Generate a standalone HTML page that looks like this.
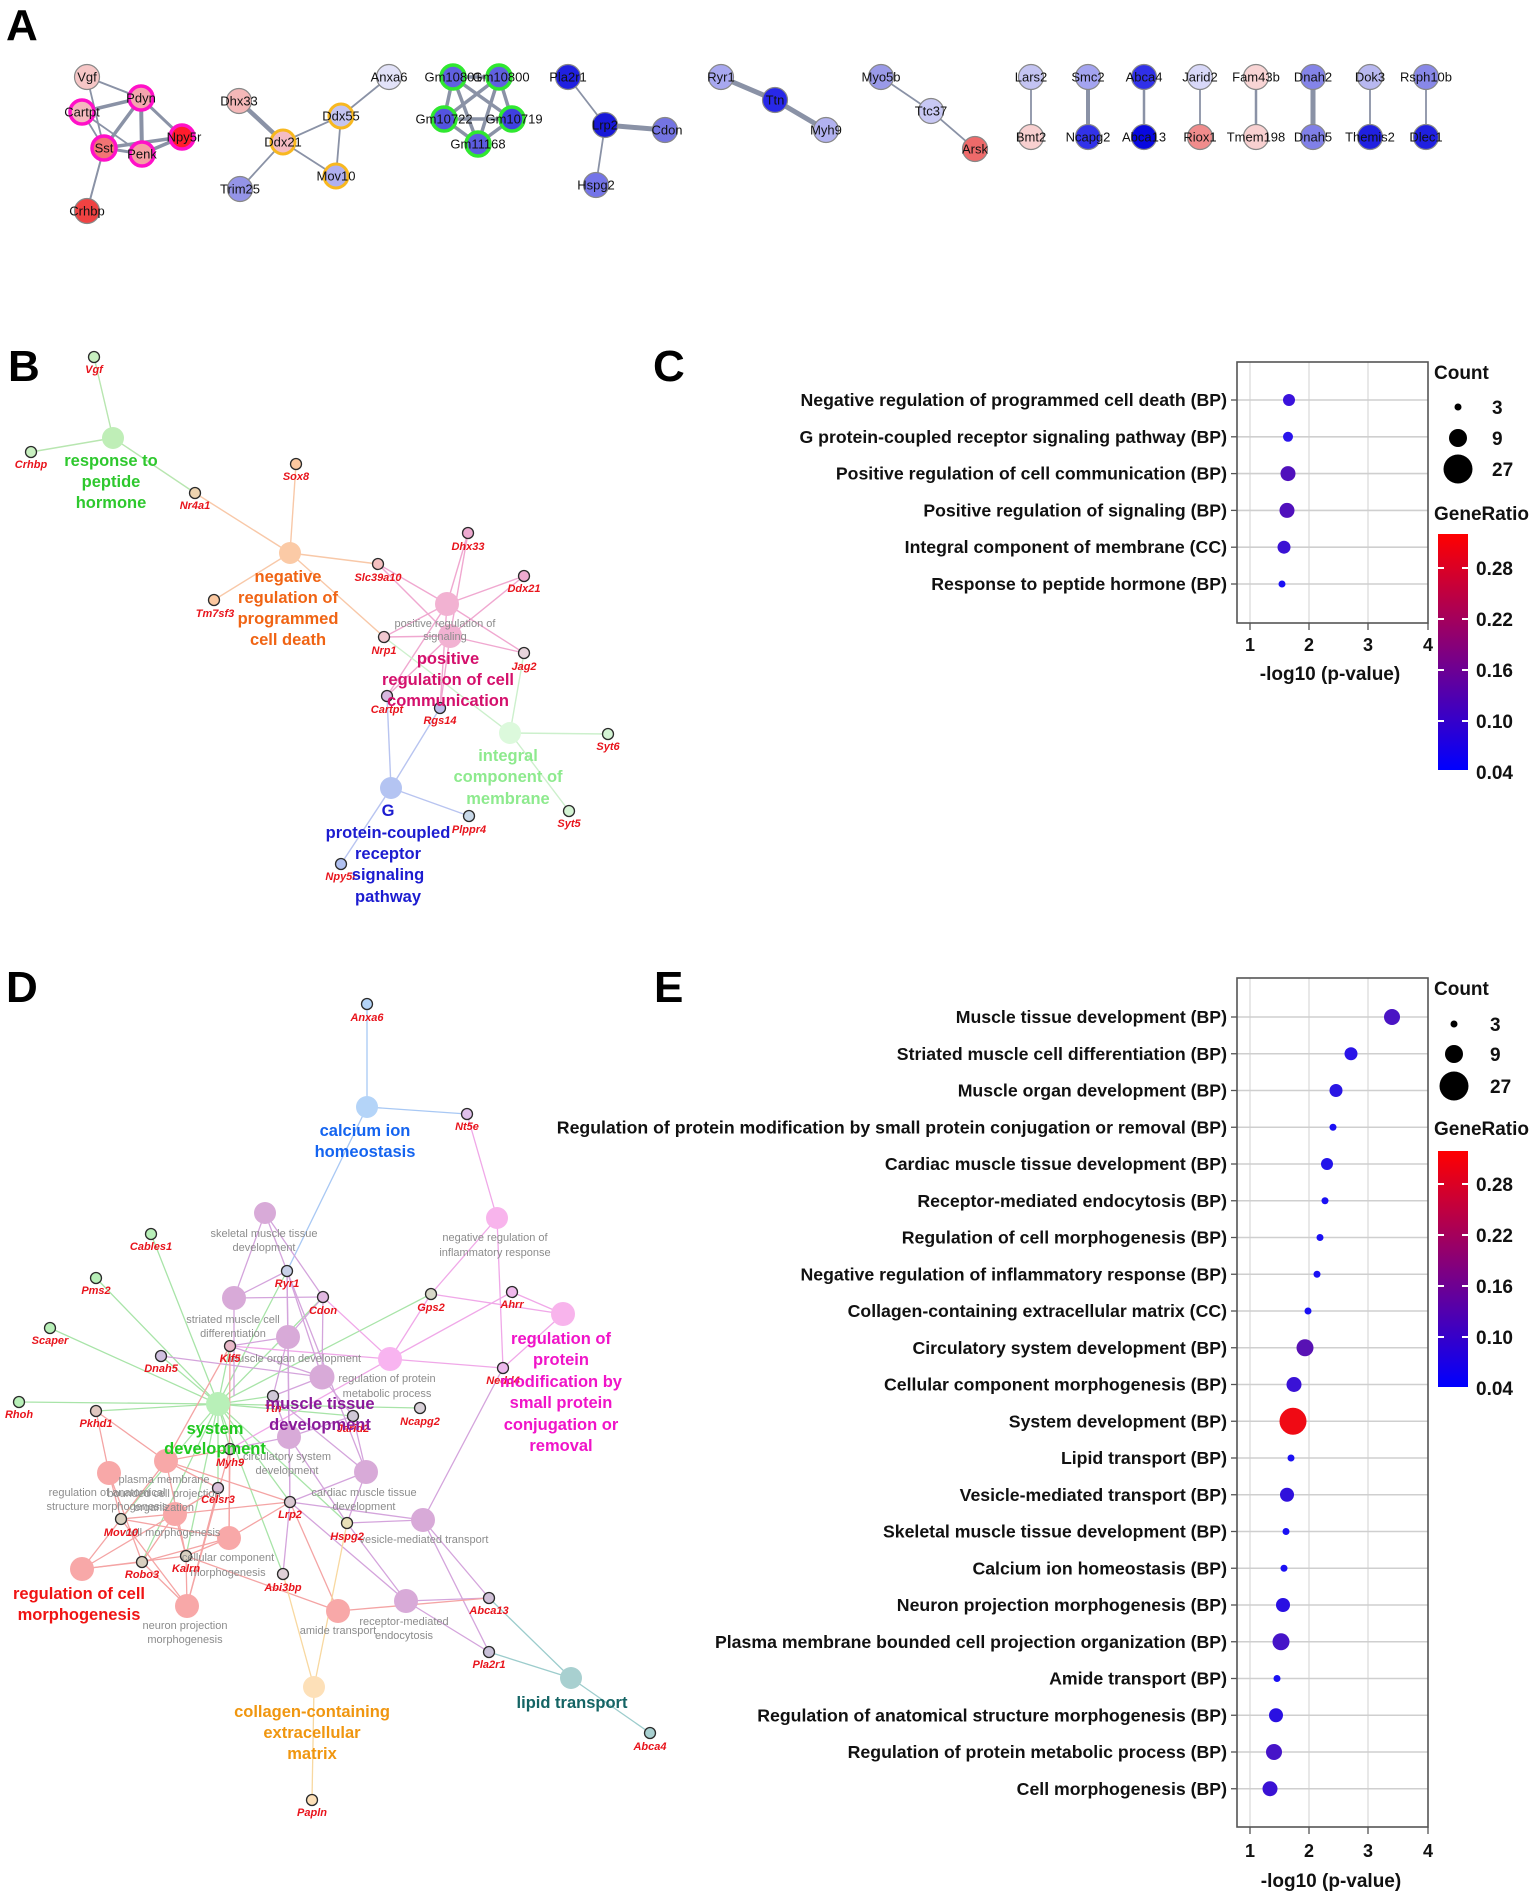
<!DOCTYPE html>
<html><head><meta charset="utf-8"><style>
html,body{margin:0;padding:0;background:#fff}
svg{display:block}
text{font-family:"Liberation Sans",Arial,sans-serif}
.L{font-size:44px;font-weight:bold;fill:#000}
.an{font-size:13px;fill:#111;text-anchor:middle}
.gl{font-size:11px;font-weight:bold;font-style:italic;fill:#e8141c;text-anchor:middle}
.hl{font-size:16.5px;font-weight:bold;text-anchor:middle}
.gr{font-size:11px;fill:#8c8c8c;text-anchor:middle}
.cat{font-size:17.7px;font-weight:bold;fill:#111;text-anchor:end}
.tk{font-size:18px;font-weight:bold;fill:#111;text-anchor:middle}
.lg{font-size:19px;font-weight:bold;fill:#111}
</style></head><body>
<svg width="1535" height="1896" viewBox="0 0 1535 1896" xmlns="http://www.w3.org/2000/svg">
<rect width="1535" height="1896" fill="#fff"/>

<!-- Panel letters -->
<text class="L" x="6" y="40">A</text>
<text class="L" x="8" y="381">B</text>
<text class="L" x="653" y="381">C</text>
<text class="L" x="6" y="1002">D</text>
<text class="L" x="654" y="1002">E</text>

<!-- ================= PANEL A ================= -->
<g stroke="#8a92a6" stroke-linecap="round">
 <line x1="87" y1="77" x2="141" y2="98" stroke-width="2"/>
 <line x1="87" y1="77" x2="104" y2="148" stroke-width="1.8"/>
 <line x1="82" y1="112" x2="141" y2="98" stroke-width="3.5"/>
 <line x1="82" y1="112" x2="104" y2="148" stroke-width="1.8"/>
 <line x1="82" y1="112" x2="142" y2="154" stroke-width="1.8"/>
 <line x1="141" y1="98" x2="104" y2="148" stroke-width="3.5"/>
 <line x1="141" y1="98" x2="142" y2="154" stroke-width="4"/>
 <line x1="141" y1="98" x2="182" y2="137" stroke-width="3"/>
 <line x1="104" y1="148" x2="142" y2="154" stroke-width="3"/>
 <line x1="104" y1="148" x2="182" y2="137" stroke-width="3.5"/>
 <line x1="142" y1="154" x2="182" y2="137" stroke-width="3.5"/>
 <line x1="104" y1="148" x2="87" y2="211" stroke-width="2"/>
 <line x1="239" y1="101" x2="283" y2="142" stroke-width="4.5"/>
 <line x1="283" y1="142" x2="341" y2="116" stroke-width="1.8"/>
 <line x1="283" y1="142" x2="240" y2="189" stroke-width="1.8"/>
 <line x1="283" y1="142" x2="336" y2="176" stroke-width="1.8"/>
 <line x1="341" y1="116" x2="336" y2="176" stroke-width="1.8"/>
 <line x1="341" y1="116" x2="389" y2="77" stroke-width="1.8"/>
 <line x1="453" y1="77" x2="499" y2="77" stroke-width="3.5"/>
 <line x1="453" y1="77" x2="444" y2="119" stroke-width="3.5"/>
 <line x1="453" y1="77" x2="512" y2="119" stroke-width="3.5"/>
 <line x1="453" y1="77" x2="478" y2="144" stroke-width="3.5"/>
 <line x1="499" y1="77" x2="444" y2="119" stroke-width="3.5"/>
 <line x1="499" y1="77" x2="512" y2="119" stroke-width="3.5"/>
 <line x1="499" y1="77" x2="478" y2="144" stroke-width="3.5"/>
 <line x1="444" y1="119" x2="512" y2="119" stroke-width="3.5"/>
 <line x1="444" y1="119" x2="478" y2="144" stroke-width="3.5"/>
 <line x1="512" y1="119" x2="478" y2="144" stroke-width="3.5"/>
 <line x1="568" y1="77" x2="605" y2="125" stroke-width="1.8"/>
 <line x1="605" y1="125" x2="665" y2="130" stroke-width="5"/>
 <line x1="605" y1="125" x2="596" y2="185" stroke-width="1.8"/>
 <line x1="721" y1="77" x2="775" y2="100" stroke-width="5"/>
 <line x1="775" y1="100" x2="826" y2="130" stroke-width="5"/>
 <line x1="881" y1="77" x2="931" y2="111" stroke-width="1.8"/>
 <line x1="931" y1="111" x2="975" y2="149" stroke-width="1.8"/>
 <line x1="1031" y1="77" x2="1031" y2="137" stroke-width="1.8"/>
 <line x1="1088" y1="77" x2="1088" y2="137" stroke-width="4"/>
 <line x1="1144" y1="77" x2="1144" y2="137" stroke-width="2.5"/>
 <line x1="1200" y1="77" x2="1200" y2="137" stroke-width="1.8"/>
 <line x1="1256" y1="77" x2="1256" y2="137" stroke-width="2.5"/>
 <line x1="1313" y1="77" x2="1313" y2="137" stroke-width="5"/>
 <line x1="1370" y1="77" x2="1370" y2="137" stroke-width="1.8"/>
 <line x1="1426" y1="77" x2="1426" y2="137" stroke-width="1.8"/>
</g>
<g stroke="#888" stroke-width="1.2">
 <circle cx="87" cy="77" r="12.5" fill="#f6c6c6"/>
 <circle cx="87" cy="211" r="12.5" fill="#f04242"/>
 <circle cx="239" cy="101" r="12.5" fill="#f4b8b8"/>
 <circle cx="389" cy="77" r="12.5" fill="#e2e2f8"/>
 <circle cx="240" cy="189" r="12.5" fill="#9494e8"/>
 <circle cx="568" cy="77" r="12.5" fill="#2020e0"/>
 <circle cx="605" cy="125" r="12.5" fill="#1818d8"/>
 <circle cx="665" cy="130" r="12.5" fill="#7474e2"/>
 <circle cx="596" cy="185" r="12.5" fill="#7474e8"/>
 <circle cx="721" cy="77" r="12.5" fill="#a8a8f0"/>
 <circle cx="775" cy="100" r="12.5" fill="#2828e8"/>
 <circle cx="826" cy="130" r="12.5" fill="#b2b2f0"/>
 <circle cx="881" cy="77" r="12.5" fill="#9a9ae8"/>
 <circle cx="931" cy="111" r="12.5" fill="#c8c8f4"/>
 <circle cx="975" cy="149" r="12.5" fill="#ee6a6a"/>
 <circle cx="1031" cy="77" r="12.5" fill="#c4c4f2"/>
 <circle cx="1088" cy="77" r="12.5" fill="#a4a4f0"/>
 <circle cx="1144" cy="77" r="12.5" fill="#3030e8"/>
 <circle cx="1200" cy="77" r="12.5" fill="#d8d8f8"/>
 <circle cx="1256" cy="77" r="12.5" fill="#f8d4d4"/>
 <circle cx="1313" cy="77" r="12.5" fill="#8484e8"/>
 <circle cx="1370" cy="77" r="12.5" fill="#b8b8f0"/>
 <circle cx="1426" cy="77" r="12.5" fill="#8888e8"/>
 <circle cx="1031" cy="137" r="12.5" fill="#f8d0d0"/>
 <circle cx="1088" cy="137" r="12.5" fill="#3232e8"/>
 <circle cx="1144" cy="137" r="12.5" fill="#0808e0"/>
 <circle cx="1200" cy="137" r="12.5" fill="#f08c8c"/>
 <circle cx="1256" cy="137" r="12.5" fill="#f8d0d0"/>
 <circle cx="1313" cy="137" r="12.5" fill="#8080e8"/>
 <circle cx="1370" cy="137" r="12.5" fill="#2020e0"/>
 <circle cx="1426" cy="137" r="12.5" fill="#2020e0"/>
</g>
<g stroke="#ff10c8" stroke-width="3.5">
 <circle cx="141" cy="98" r="12" fill="#f4a6ae"/>
 <circle cx="82" cy="112" r="12" fill="#f4b8be"/>
 <circle cx="182" cy="137" r="12" fill="#ff1c2c"/>
 <circle cx="104" cy="148" r="12" fill="#f27474"/>
 <circle cx="142" cy="154" r="12" fill="#f5a0a4"/>
</g>
<g stroke="#f8b820" stroke-width="3">
 <circle cx="341" cy="116" r="12" fill="#c4c4f0"/>
 <circle cx="283" cy="142" r="12" fill="#f4bcc4"/>
 <circle cx="336" cy="176" r="12" fill="#b0b0f0"/>
</g>
<g stroke="#30e830" stroke-width="3.5">
 <circle cx="453" cy="77" r="12" fill="#6060e0"/>
 <circle cx="499" cy="77" r="12" fill="#6060e0"/>
 <circle cx="444" cy="119" r="12" fill="#5454e0"/>
 <circle cx="512" cy="119" r="12" fill="#4040e0"/>
 <circle cx="478" cy="144" r="12" fill="#5c5ce0"/>
</g>
<g class="an">
 <text class="an" x="87" y="81.5">Vgf</text>
 <text class="an" x="141" y="102.5">Pdyn</text>
 <text class="an" x="82" y="116.5">Cartpt</text>
 <text class="an" x="184" y="141.5">Npy5r</text>
 <text class="an" x="104" y="152.5">Sst</text>
 <text class="an" x="142" y="158.5">Penk</text>
 <text class="an" x="87" y="215.5">Crhbp</text>
 <text class="an" x="239" y="105.5">Dhx33</text>
 <text class="an" x="389" y="81.5">Anxa6</text>
 <text class="an" x="341" y="120.5">Ddx55</text>
 <text class="an" x="283" y="146.5">Ddx21</text>
 <text class="an" x="240" y="193.5">Trim25</text>
 <text class="an" x="336" y="180.5">Mov10</text>
 <text class="an" x="453" y="81.5">Gm10801</text>
 <text class="an" x="501" y="81.5">Gm10800</text>
 <text class="an" x="444" y="123.5">Gm10722</text>
 <text class="an" x="514" y="123.5">Gm10719</text>
 <text class="an" x="478" y="148.5">Gm11168</text>
 <text class="an" x="568" y="81.5">Pla2r1</text>
 <text class="an" x="605" y="129.5">Lrp2</text>
 <text class="an" x="667" y="134.5">Cdon</text>
 <text class="an" x="596" y="189.5">Hspg2</text>
 <text class="an" x="721" y="81.5">Ryr1</text>
 <text class="an" x="775" y="104.5">Ttn</text>
 <text class="an" x="826" y="134.5">Myh9</text>
 <text class="an" x="881" y="81.5">Myo5b</text>
 <text class="an" x="931" y="115.5">Ttc37</text>
 <text class="an" x="975" y="153.5">Arsk</text>
 <text class="an" x="1031" y="81.5">Lars2</text>
 <text class="an" x="1088" y="81.5">Smc2</text>
 <text class="an" x="1144" y="81.5">Abca4</text>
 <text class="an" x="1200" y="81.5">Jarid2</text>
 <text class="an" x="1256" y="81.5">Fam43b</text>
 <text class="an" x="1313" y="81.5">Dnah2</text>
 <text class="an" x="1370" y="81.5">Dok3</text>
 <text class="an" x="1426" y="81.5">Rsph10b</text>
 <text class="an" x="1031" y="141.5">Bmt2</text>
 <text class="an" x="1088" y="141.5">Ncapg2</text>
 <text class="an" x="1144" y="141.5">Abca13</text>
 <text class="an" x="1200" y="141.5">Riox1</text>
 <text class="an" x="1256" y="141.5">Tmem198</text>
 <text class="an" x="1313" y="141.5">Dnah5</text>
 <text class="an" x="1370" y="141.5">Themis2</text>
 <text class="an" x="1426" y="141.5">Dlec1</text>
</g>

<!-- ================= PANEL B ================= -->
<g stroke-width="1.4" fill="none">
 <g stroke="#b8e6b0">
  <line x1="94" y1="357" x2="113" y2="438"/>
  <line x1="31" y1="452" x2="113" y2="438"/>
  <line x1="113" y1="438" x2="195" y2="493"/>
 </g>
 <g stroke="#f8c8a8">
  <line x1="195" y1="493" x2="290" y2="553"/>
  <line x1="296" y1="464" x2="290" y2="553"/>
  <line x1="214" y1="600" x2="290" y2="553"/>
  <line x1="378" y1="564" x2="290" y2="553"/>
  <line x1="384" y1="637" x2="290" y2="553"/>
 </g>
 <g stroke="#f0a8d0">
  <line x1="378" y1="564" x2="447" y2="604"/><line x1="378" y1="564" x2="450" y2="636"/>
  <line x1="468" y1="533" x2="447" y2="604"/><line x1="468" y1="533" x2="450" y2="636"/>
  <line x1="524" y1="576" x2="447" y2="604"/><line x1="524" y1="576" x2="450" y2="636"/>
  <line x1="524" y1="653" x2="447" y2="604"/><line x1="524" y1="653" x2="450" y2="636"/>
  <line x1="384" y1="637" x2="447" y2="604"/><line x1="384" y1="637" x2="450" y2="636"/>
  <line x1="387" y1="696" x2="447" y2="604"/><line x1="387" y1="696" x2="450" y2="636"/>
  <line x1="440" y1="708" x2="447" y2="604"/><line x1="440" y1="708" x2="450" y2="636"/>
 </g>
 <g stroke="#ccf0cc">
  <line x1="524" y1="653" x2="510" y2="733"/>
  <line x1="384" y1="637" x2="510" y2="733"/>
  <line x1="608" y1="734" x2="510" y2="733"/>
  <line x1="569" y1="811" x2="510" y2="733"/>
 </g>
 <g stroke="#b8c4f0">
  <line x1="387" y1="696" x2="391" y2="788"/>
  <line x1="440" y1="708" x2="391" y2="788"/>
  <line x1="469" y1="816" x2="391" y2="788"/>
  <line x1="341" y1="864" x2="391" y2="788"/>
 </g>
</g>
<g>
 <circle cx="113" cy="438" r="11" fill="#bfeeb7"/>
 <circle cx="290" cy="553" r="11" fill="#fbcaa6"/>
 <circle cx="447" cy="604" r="12" fill="#f2b2d2"/>
 <circle cx="450" cy="636" r="12" fill="#f2b2d2"/>
 <circle cx="510" cy="733" r="11" fill="#dcf9dc"/>
 <circle cx="391" cy="788" r="11" fill="#b4c4f2"/>
</g>
<g stroke="#2a2a2a" stroke-width="1.3">
 <circle cx="94" cy="357" r="5.5" fill="#c8f0c0"/>
 <circle cx="31" cy="452" r="5.5" fill="#c8f0c0"/>
 <circle cx="195" cy="493" r="5.5" fill="#eed4b0"/>
 <circle cx="296" cy="464" r="5.5" fill="#fbc8a0"/>
 <circle cx="214" cy="600" r="5.5" fill="#fbc8a0"/>
 <circle cx="378" cy="564" r="5.5" fill="#f5c0c0"/>
 <circle cx="468" cy="533" r="5.5" fill="#eeaad0"/>
 <circle cx="524" cy="576" r="5.5" fill="#eeaad0"/>
 <circle cx="384" cy="637" r="5.5" fill="#f0c8d0"/>
 <circle cx="524" cy="653" r="5.5" fill="#e8d4dc"/>
 <circle cx="387" cy="696" r="5.5" fill="#d8b8e0"/>
 <circle cx="440" cy="708" r="5.5" fill="#bcbce8"/>
 <circle cx="608" cy="734" r="5.5" fill="#d4f4d4"/>
 <circle cx="569" cy="811" r="5.5" fill="#d4f4d4"/>
 <circle cx="469" cy="816" r="5.5" fill="#c8d8e8"/>
 <circle cx="341" cy="864" r="5.5" fill="#b0c0f0"/>
</g>
<text class="gr" x="445" y="627">positive regulation of</text>
<text class="gr" x="445" y="640">signaling</text>
<g>
 <text class="gl" x="94" y="373">Vgf</text>
 <text class="gl" x="31" y="468">Crhbp</text>
 <text class="gl" x="195" y="509">Nr4a1</text>
 <text class="gl" x="296" y="480">Sox8</text>
 <text class="gl" x="215" y="617">Tm7sf3</text>
 <text class="gl" x="378" y="581">Slc39a10</text>
 <text class="gl" x="468" y="550">Dhx33</text>
 <text class="gl" x="524" y="592">Ddx21</text>
 <text class="gl" x="384" y="654">Nrp1</text>
 <text class="gl" x="524" y="670">Jag2</text>
 <text class="gl" x="387" y="713">Cartpt</text>
 <text class="gl" x="440" y="724">Rgs14</text>
 <text class="gl" x="608" y="750">Syt6</text>
 <text class="gl" x="569" y="827">Syt5</text>
 <text class="gl" x="469" y="833">Plppr4</text>
 <text class="gl" x="341" y="880">Npy5r</text>
</g>
<g class="hl">
 <text class="hl" fill="#2ec82e" x="111" y="466">response to</text>
 <text class="hl" fill="#2ec82e" x="111" y="487">peptide</text>
 <text class="hl" fill="#2ec82e" x="111" y="508">hormone</text>
 <text class="hl" fill="#f06414" x="288" y="582">negative</text>
 <text class="hl" fill="#f06414" x="288" y="603">regulation of</text>
 <text class="hl" fill="#f06414" x="288" y="624">programmed</text>
 <text class="hl" fill="#f06414" x="288" y="645">cell death</text>
 <text class="hl" fill="#d4106c" x="448" y="664">positive</text>
 <text class="hl" fill="#d4106c" x="448" y="685">regulation of cell</text>
 <text class="hl" fill="#d4106c" x="448" y="706">communication</text>
 <text class="hl" fill="#8eea8e" x="508" y="761">integral</text>
 <text class="hl" fill="#8eea8e" x="508" y="782">component of</text>
 <text class="hl" fill="#8eea8e" x="508" y="804">membrane</text>
 <text class="hl" fill="#1c1cd0" x="388" y="816">G</text>
 <text class="hl" fill="#1c1cd0" x="388" y="838">protein-coupled</text>
 <text class="hl" fill="#1c1cd0" x="388" y="859">receptor</text>
 <text class="hl" fill="#1c1cd0" x="388" y="880">signaling</text>
 <text class="hl" fill="#1c1cd0" x="388" y="902">pathway</text>
</g>

<!-- ================= PANEL C ================= -->
<g stroke="#d8d8d8" stroke-width="1.2">
 <line x1="1250" y1="362" x2="1250" y2="623"/>
 <line x1="1309" y1="362" x2="1309" y2="623"/>
 <line x1="1368" y1="362" x2="1368" y2="623"/>
</g>
<g stroke="#cfcfcf" stroke-width="1.6">
 <line x1="1237" y1="400" x2="1428" y2="400"/>
 <line x1="1237" y1="436.8" x2="1428" y2="436.8"/>
 <line x1="1237" y1="473.6" x2="1428" y2="473.6"/>
 <line x1="1237" y1="510.4" x2="1428" y2="510.4"/>
 <line x1="1237" y1="547.2" x2="1428" y2="547.2"/>
 <line x1="1237" y1="584" x2="1428" y2="584"/>
</g>
<rect x="1237" y="362" width="191" height="261" fill="none" stroke="#555" stroke-width="1.6"/>
<g stroke="#555" stroke-width="1.3">
 <line x1="1250" y1="623" x2="1250" y2="630"/><line x1="1309" y1="623" x2="1309" y2="630"/>
 <line x1="1368" y1="623" x2="1368" y2="630"/><line x1="1428" y1="623" x2="1428" y2="630"/>
 <line x1="1231" y1="400" x2="1237" y2="400"/><line x1="1231" y1="436.8" x2="1237" y2="436.8"/>
 <line x1="1231" y1="473.6" x2="1237" y2="473.6"/><line x1="1231" y1="510.4" x2="1237" y2="510.4"/>
 <line x1="1231" y1="547.2" x2="1237" y2="547.2"/><line x1="1231" y1="584" x2="1237" y2="584"/>
</g>
<circle cx="1289" cy="400" r="6" fill="#3a12dc"/>
<circle cx="1288" cy="436.8" r="5" fill="#2a14ec"/>
<circle cx="1288" cy="473.6" r="7.5" fill="#5010bc"/>
<circle cx="1287" cy="510.4" r="7.5" fill="#5010bc"/>
<circle cx="1284" cy="547.2" r="6.5" fill="#3a12d4"/>
<circle cx="1282" cy="584" r="3.5" fill="#1a10f4"/>
<text class="cat" x="1227" y="406">Negative regulation of programmed cell death (BP)</text>
<text class="cat" x="1227" y="442.8">G protein-coupled receptor signaling pathway (BP)</text>
<text class="cat" x="1227" y="479.6">Positive regulation of cell communication (BP)</text>
<text class="cat" x="1227" y="516.4">Positive regulation of signaling (BP)</text>
<text class="cat" x="1227" y="553.2">Integral component of membrane (CC)</text>
<text class="cat" x="1227" y="590">Response to peptide hormone (BP)</text>
<text class="tk" x="1250" y="651">1</text><text class="tk" x="1309" y="651">2</text>
<text class="tk" x="1368" y="651">3</text><text class="tk" x="1428" y="651">4</text>
<text class="lg" x="1330" y="680" text-anchor="middle">-log10 (p-value)</text>
<text class="lg" x="1434" y="379">Count</text>
<circle cx="1458" cy="407" r="3.5" fill="#000"/>
<circle cx="1458" cy="438" r="9" fill="#000"/>
<circle cx="1458" cy="469" r="14.5" fill="#000"/>
<text class="lg" x="1492" y="414">3</text>
<text class="lg" x="1492" y="445">9</text>
<text class="lg" x="1492" y="476">27</text>
<text class="lg" x="1434" y="520">GeneRatio</text>
<defs>
 <linearGradient id="cb" x1="0" y1="1" x2="0" y2="0">
  <stop offset="0" stop-color="#0000ff"/>
  <stop offset="0.5" stop-color="#800080"/>
  <stop offset="1" stop-color="#ff0000"/>
 </linearGradient>
</defs>
<rect x="1438" y="534" width="30" height="236" fill="url(#cb)"/>
<g stroke="#fff" stroke-width="2">
 <line x1="1438" y1="568" x2="1444" y2="568"/><line x1="1462" y1="568" x2="1468" y2="568"/>
 <line x1="1438" y1="619" x2="1444" y2="619"/><line x1="1462" y1="619" x2="1468" y2="619"/>
 <line x1="1438" y1="670" x2="1444" y2="670"/><line x1="1462" y1="670" x2="1468" y2="670"/>
 <line x1="1438" y1="721" x2="1444" y2="721"/><line x1="1462" y1="721" x2="1468" y2="721"/>
</g>
<text class="lg" x="1476" y="575">0.28</text>
<text class="lg" x="1476" y="626">0.22</text>
<text class="lg" x="1476" y="677">0.16</text>
<text class="lg" x="1476" y="728">0.10</text>
<text class="lg" x="1476" y="779">0.04</text>

<!-- ================= PANEL D ================= -->
<g stroke-width="1.3" fill="none">
 <g stroke="#a8c8f4">
  <line x1="367" y1="1004" x2="367" y2="1107"/>
  <line x1="367" y1="1107" x2="467" y2="1114"/>
  <line x1="367" y1="1107" x2="287" y2="1271"/>
 </g>
 <g stroke="#a8e4a8">
  <line x1="218" y1="1404" x2="151" y2="1234"/>
  <line x1="218" y1="1404" x2="96" y2="1278"/>
  <line x1="218" y1="1404" x2="50" y2="1328"/>
  <line x1="218" y1="1404" x2="161" y2="1356"/>
  <line x1="218" y1="1404" x2="19" y2="1402"/>
  <line x1="218" y1="1404" x2="96" y2="1411"/>
  <line x1="218" y1="1404" x2="287" y2="1271"/>
  <line x1="218" y1="1404" x2="323" y2="1297"/>
  <line x1="218" y1="1404" x2="431" y2="1294"/>
  <line x1="218" y1="1404" x2="230" y2="1346"/>
  <line x1="218" y1="1404" x2="273" y2="1396"/>
  <line x1="218" y1="1404" x2="353" y2="1416"/>
  <line x1="218" y1="1404" x2="420" y2="1408"/>
  <line x1="218" y1="1404" x2="230" y2="1449"/>
  <line x1="218" y1="1404" x2="218" y2="1488"/>
  <line x1="218" y1="1404" x2="290" y2="1502"/>
  <line x1="218" y1="1404" x2="347" y2="1523"/>
  <line x1="218" y1="1404" x2="283" y2="1574"/>
  <line x1="218" y1="1404" x2="121" y2="1519"/>
  <line x1="218" y1="1404" x2="142" y2="1562"/>
  <line x1="218" y1="1404" x2="186" y2="1556"/>
 </g>
 <g stroke="#f0a8e8">
  <line x1="467" y1="1114" x2="497" y2="1218"/>
  <line x1="497" y1="1218" x2="431" y2="1294"/>
  <line x1="497" y1="1218" x2="503" y2="1368"/>
  <line x1="563" y1="1314" x2="431" y2="1294"/>
  <line x1="563" y1="1314" x2="512" y2="1292"/>
  <line x1="563" y1="1314" x2="503" y2="1368"/>
  <line x1="390" y1="1359" x2="431" y2="1294"/>
  <line x1="390" y1="1359" x2="512" y2="1292"/>
  <line x1="390" y1="1359" x2="503" y2="1368"/>
  <line x1="390" y1="1359" x2="323" y2="1297"/>
  <line x1="390" y1="1359" x2="230" y2="1346"/>
  <line x1="390" y1="1359" x2="230" y2="1449"/>
 </g>
 <g stroke="#d4a4dc">
  <line x1="265" y1="1213" x2="287" y2="1271"/>
  <line x1="265" y1="1213" x2="323" y2="1297"/>
  <line x1="265" y1="1213" x2="234" y2="1298"/>
  <line x1="234" y1="1298" x2="287" y2="1271"/>
  <line x1="234" y1="1298" x2="323" y2="1297"/>
  <line x1="234" y1="1298" x2="234" y2="1396"/>
  <line x1="288" y1="1337" x2="287" y2="1271"/>
  <line x1="288" y1="1337" x2="323" y2="1297"/>
  <line x1="288" y1="1337" x2="230" y2="1346"/>
  <line x1="288" y1="1337" x2="273" y2="1396"/>
  <line x1="288" y1="1337" x2="290" y2="1502"/>
  <line x1="322" y1="1377" x2="287" y2="1271"/>
  <line x1="322" y1="1377" x2="323" y2="1297"/>
  <line x1="322" y1="1377" x2="230" y2="1346"/>
  <line x1="322" y1="1377" x2="273" y2="1396"/>
  <line x1="322" y1="1377" x2="353" y2="1416"/>
  <line x1="322" y1="1377" x2="161" y2="1356"/>
  <line x1="289" y1="1437" x2="273" y2="1396"/>
  <line x1="289" y1="1437" x2="290" y2="1502"/>
  <line x1="289" y1="1437" x2="347" y2="1523"/>
  <line x1="289" y1="1437" x2="230" y2="1449"/>
  <line x1="289" y1="1437" x2="353" y2="1416"/>
  <line x1="289" y1="1437" x2="287" y2="1271"/>
  <line x1="366" y1="1472" x2="287" y2="1271"/>
  <line x1="366" y1="1472" x2="273" y2="1396"/>
  <line x1="366" y1="1472" x2="290" y2="1502"/>
  <line x1="366" y1="1472" x2="347" y2="1523"/>
  <line x1="366" y1="1472" x2="353" y2="1416"/>
  <line x1="423" y1="1520" x2="290" y2="1502"/>
  <line x1="423" y1="1520" x2="347" y2="1523"/>
  <line x1="423" y1="1520" x2="489" y2="1598"/>
  <line x1="423" y1="1520" x2="489" y2="1652"/>
  <line x1="423" y1="1520" x2="503" y2="1368"/>
  <line x1="406" y1="1601" x2="290" y2="1502"/>
  <line x1="406" y1="1601" x2="347" y2="1523"/>
  <line x1="406" y1="1601" x2="489" y2="1652"/>
  <line x1="406" y1="1601" x2="489" y2="1598"/>
  <line x1="283" y1="1574" x2="290" y2="1502"/>
 </g>
 <g stroke="#f4a4a4">
  <line x1="109" y1="1473" x2="96" y2="1411"/>
  <line x1="109" y1="1473" x2="121" y2="1519"/>
  <line x1="109" y1="1473" x2="142" y2="1562"/>
  <line x1="166" y1="1461" x2="230" y2="1346"/>
  <line x1="166" y1="1461" x2="230" y2="1449"/>
  <line x1="166" y1="1461" x2="218" y2="1488"/>
  <line x1="166" y1="1461" x2="290" y2="1502"/>
  <line x1="166" y1="1461" x2="121" y2="1519"/>
  <line x1="166" y1="1461" x2="186" y2="1556"/>
  <line x1="166" y1="1461" x2="96" y2="1411"/>
  <line x1="175" y1="1514" x2="121" y2="1519"/>
  <line x1="175" y1="1514" x2="218" y2="1488"/>
  <line x1="175" y1="1514" x2="290" y2="1502"/>
  <line x1="175" y1="1514" x2="142" y2="1562"/>
  <line x1="175" y1="1514" x2="186" y2="1556"/>
  <line x1="229" y1="1538" x2="230" y2="1346"/>
  <line x1="229" y1="1538" x2="230" y2="1449"/>
  <line x1="229" y1="1538" x2="186" y2="1556"/>
  <line x1="229" y1="1538" x2="142" y2="1562"/>
  <line x1="229" y1="1538" x2="121" y2="1519"/>
  <line x1="229" y1="1538" x2="290" y2="1502"/>
  <line x1="82" y1="1569" x2="121" y2="1519"/>
  <line x1="82" y1="1569" x2="142" y2="1562"/>
  <line x1="82" y1="1569" x2="186" y2="1556"/>
  <line x1="82" y1="1569" x2="218" y2="1488"/>
  <line x1="187" y1="1606" x2="142" y2="1562"/>
  <line x1="187" y1="1606" x2="186" y2="1556"/>
  <line x1="187" y1="1606" x2="121" y2="1519"/>
  <line x1="187" y1="1606" x2="218" y2="1488"/>
  <line x1="187" y1="1606" x2="230" y2="1449"/>
  <line x1="338" y1="1611" x2="290" y2="1502"/>
  <line x1="338" y1="1611" x2="489" y2="1598"/>
  <line x1="338" y1="1611" x2="186" y2="1556"/>
 </g>
 <g stroke="#9ccccc">
  <line x1="571" y1="1678" x2="489" y2="1598"/>
  <line x1="571" y1="1678" x2="489" y2="1652"/>
  <line x1="571" y1="1678" x2="650" y2="1733"/>
 </g>
 <g stroke="#f8d8a0">
  <line x1="314" y1="1687" x2="312" y2="1800"/>
  <line x1="314" y1="1687" x2="283" y2="1574"/>
  <line x1="314" y1="1687" x2="347" y2="1523"/>
 </g>
</g>
<g>
 <circle cx="367" cy="1107" r="11" fill="#b4d4f8"/>
 <circle cx="265" cy="1213" r="11" fill="#d8aad8"/>
 <circle cx="497" cy="1218" r="11" fill="#f8b4ec"/>
 <circle cx="234" cy="1298" r="12" fill="#d8aad8"/>
 <circle cx="563" cy="1314" r="12" fill="#f8b4ec"/>
 <circle cx="288" cy="1337" r="12" fill="#d8aad8"/>
 <circle cx="390" cy="1359" r="12" fill="#f8b4f0"/>
 <circle cx="322" cy="1377" r="12.5" fill="#d8aad8"/>
 <circle cx="218" cy="1404" r="12" fill="#b8f0b8"/>
 <circle cx="289" cy="1437" r="12" fill="#d8aad8"/>
 <circle cx="166" cy="1461" r="12" fill="#f8a8a8"/>
 <circle cx="109" cy="1473" r="12" fill="#f8a8a8"/>
 <circle cx="366" cy="1472" r="12" fill="#d8aad8"/>
 <circle cx="175" cy="1514" r="12" fill="#f8a8a8"/>
 <circle cx="423" cy="1520" r="12" fill="#d8aad8"/>
 <circle cx="229" cy="1538" r="12" fill="#f8a8a8"/>
 <circle cx="82" cy="1569" r="12" fill="#f8a8a8"/>
 <circle cx="187" cy="1606" r="12" fill="#f8a8a8"/>
 <circle cx="338" cy="1611" r="12" fill="#f8a8a8"/>
 <circle cx="406" cy="1601" r="12" fill="#d8aad8"/>
 <circle cx="571" cy="1678" r="11" fill="#a8d0d0"/>
 <circle cx="314" cy="1687" r="11" fill="#fde0b8"/>
</g>
<g stroke="#2a2a2a" stroke-width="1.3">
 <circle cx="367" cy="1004" r="5.5" fill="#b4d4f8"/>
 <circle cx="467" cy="1114" r="5.5" fill="#e0c0ec"/>
 <circle cx="151" cy="1234" r="5.5" fill="#b8f0b8"/>
 <circle cx="96" cy="1278" r="5.5" fill="#b8f0b8"/>
 <circle cx="287" cy="1271" r="5.5" fill="#c8d0e8"/>
 <circle cx="323" cy="1297" r="5.5" fill="#e0b8e0"/>
 <circle cx="431" cy="1294" r="5.5" fill="#d8d8c8"/>
 <circle cx="512" cy="1292" r="5.5" fill="#f0b8ec"/>
 <circle cx="50" cy="1328" r="5.5" fill="#b8f0b8"/>
 <circle cx="230" cy="1346" r="5.5" fill="#e8b8c8"/>
 <circle cx="161" cy="1356" r="5.5" fill="#d0c0e0"/>
 <circle cx="503" cy="1368" r="5.5" fill="#ecb8ec"/>
 <circle cx="19" cy="1402" r="5.5" fill="#b8f0b8"/>
 <circle cx="96" cy="1411" r="5.5" fill="#e0c8c0"/>
 <circle cx="273" cy="1396" r="5.5" fill="#d0c8d8"/>
 <circle cx="420" cy="1408" r="5.5" fill="#d8d0d8"/>
 <circle cx="353" cy="1416" r="5.5" fill="#d0c8d8"/>
 <circle cx="230" cy="1449" r="5.5" fill="#d8c8d0"/>
 <circle cx="218" cy="1488" r="5.5" fill="#d8c0d8"/>
 <circle cx="290" cy="1502" r="5.5" fill="#d8c8d0"/>
 <circle cx="121" cy="1519" r="5.5" fill="#d8d0c0"/>
 <circle cx="347" cy="1523" r="5.5" fill="#e8e0b8"/>
 <circle cx="186" cy="1556" r="5.5" fill="#d8d0c0"/>
 <circle cx="142" cy="1562" r="5.5" fill="#d8d0c0"/>
 <circle cx="283" cy="1574" r="5.5" fill="#e0d0d8"/>
 <circle cx="489" cy="1598" r="5.5" fill="#d0c0d8"/>
 <circle cx="489" cy="1652" r="5.5" fill="#c8c0d8"/>
 <circle cx="650" cy="1733" r="5.5" fill="#a8d0d0"/>
 <circle cx="312" cy="1800" r="5.5" fill="#fde0b8"/>
</g>
<g>
 <text class="gr" x="264" y="1237">skeletal muscle tissue</text>
 <text class="gr" x="264" y="1251">development</text>
 <text class="gr" x="495" y="1241">negative regulation of</text>
 <text class="gr" x="495" y="1256">inflammatory response</text>
 <text class="gr" x="233" y="1323">striated muscle cell</text>
 <text class="gr" x="233" y="1337">differentiation</text>
 <text class="gr" x="295" y="1362">muscle organ development</text>
 <text class="gr" x="387" y="1382">regulation of protein</text>
 <text class="gr" x="387" y="1397">metabolic process</text>
 <text class="gr" x="287" y="1460">circulatory system</text>
 <text class="gr" x="287" y="1474">development</text>
 <text class="gr" x="164" y="1483">plasma membrane</text>
 <text class="gr" x="164" y="1497">bounded cell projection</text>
 <text class="gr" x="164" y="1511">organization</text>
 <text class="gr" x="107" y="1496">regulation of anatomical</text>
 <text class="gr" x="107" y="1510">structure morphogenesis</text>
 <text class="gr" x="364" y="1496">cardiac muscle tissue</text>
 <text class="gr" x="364" y="1510">development</text>
 <text class="gr" x="173" y="1536">cell morphogenesis</text>
 <text class="gr" x="424" y="1543">vesicle-mediated transport</text>
 <text class="gr" x="228" y="1561">cellular component</text>
 <text class="gr" x="228" y="1576">morphogenesis</text>
 <text class="gr" x="185" y="1629">neuron projection</text>
 <text class="gr" x="185" y="1643">morphogenesis</text>
 <text class="gr" x="338" y="1634">amide transport</text>
 <text class="gr" x="404" y="1625">receptor-mediated</text>
 <text class="gr" x="404" y="1639">endocytosis</text>
</g>
<g>
 <text class="gl" x="367" y="1021">Anxa6</text>
 <text class="gl" x="467" y="1130">Nt5e</text>
 <text class="gl" x="151" y="1250">Cables1</text>
 <text class="gl" x="96" y="1294">Pms2</text>
 <text class="gl" x="287" y="1287">Ryr1</text>
 <text class="gl" x="323" y="1314">Cdon</text>
 <text class="gl" x="431" y="1311">Gps2</text>
 <text class="gl" x="512" y="1308">Ahrr</text>
 <text class="gl" x="50" y="1344">Scaper</text>
 <text class="gl" x="230" y="1362">Klf5</text>
 <text class="gl" x="161" y="1372">Dnah5</text>
 <text class="gl" x="503" y="1384">Nedd4</text>
 <text class="gl" x="19" y="1418">Rhoh</text>
 <text class="gl" x="96" y="1427">Pkhd1</text>
 <text class="gl" x="273" y="1412">Ttn</text>
 <text class="gl" x="420" y="1425">Ncapg2</text>
 <text class="gl" x="353" y="1432">Jarid2</text>
 <text class="gl" x="230" y="1466">Myh9</text>
 <text class="gl" x="218" y="1503">Celsr3</text>
 <text class="gl" x="290" y="1518">Lrp2</text>
 <text class="gl" x="121" y="1536">Mov10</text>
 <text class="gl" x="347" y="1540">Hspg2</text>
 <text class="gl" x="186" y="1572">Kalrn</text>
 <text class="gl" x="142" y="1578">Robo3</text>
 <text class="gl" x="283" y="1591">Abi3bp</text>
 <text class="gl" x="489" y="1614">Abca13</text>
 <text class="gl" x="489" y="1668">Pla2r1</text>
 <text class="gl" x="650" y="1750">Abca4</text>
 <text class="gl" x="312" y="1816">Papln</text>
</g>
<g>
 <text class="hl" fill="#1464f0" x="365" y="1136">calcium ion</text>
 <text class="hl" fill="#1464f0" x="365" y="1157">homeostasis</text>
 <text class="hl" fill="#f014c8" x="561" y="1344">regulation of</text>
 <text class="hl" fill="#f014c8" x="561" y="1365">protein</text>
 <text class="hl" fill="#f014c8" x="561" y="1387">modification by</text>
 <text class="hl" fill="#f014c8" x="561" y="1408">small protein</text>
 <text class="hl" fill="#f014c8" x="561" y="1430">conjugation or</text>
 <text class="hl" fill="#f014c8" x="561" y="1451">removal</text>
 <text class="hl" fill="#8a1a9a" x="320" y="1409">muscle tissue</text>
 <text class="hl" fill="#8a1a9a" x="320" y="1430">development</text>
 <text class="hl" fill="#20c820" x="215" y="1434">system</text>
 <text class="hl" fill="#20c820" x="215" y="1454">development</text>
 <text class="hl" fill="#f01414" x="79" y="1599">regulation of cell</text>
 <text class="hl" fill="#f01414" x="79" y="1620">morphogenesis</text>
 <text class="hl" fill="#146464" x="572" y="1708">lipid transport</text>
 <text class="hl" fill="#f0960f" x="312" y="1717">collagen-containing</text>
 <text class="hl" fill="#f0960f" x="312" y="1738">extracellular</text>
 <text class="hl" fill="#f0960f" x="312" y="1759">matrix</text>
</g>

<!-- ================= PANEL E ================= -->
<g stroke="#d8d8d8" stroke-width="1.2">
 <line x1="1250" y1="978" x2="1250" y2="1827"/>
 <line x1="1309" y1="978" x2="1309" y2="1827"/>
 <line x1="1368" y1="978" x2="1368" y2="1827"/>
</g>
<g stroke="#cfcfcf" stroke-width="1.6">
 <line x1="1237" y1="1017" x2="1428" y2="1017"/>
 <line x1="1237" y1="1053.75" x2="1428" y2="1053.75"/>
 <line x1="1237" y1="1090.5" x2="1428" y2="1090.5"/>
 <line x1="1237" y1="1127.25" x2="1428" y2="1127.25"/>
 <line x1="1237" y1="1164" x2="1428" y2="1164"/>
 <line x1="1237" y1="1200.75" x2="1428" y2="1200.75"/>
 <line x1="1237" y1="1237.5" x2="1428" y2="1237.5"/>
 <line x1="1237" y1="1274.25" x2="1428" y2="1274.25"/>
 <line x1="1237" y1="1311" x2="1428" y2="1311"/>
 <line x1="1237" y1="1347.75" x2="1428" y2="1347.75"/>
 <line x1="1237" y1="1384.5" x2="1428" y2="1384.5"/>
 <line x1="1237" y1="1421.25" x2="1428" y2="1421.25"/>
 <line x1="1237" y1="1458" x2="1428" y2="1458"/>
 <line x1="1237" y1="1494.75" x2="1428" y2="1494.75"/>
 <line x1="1237" y1="1531.5" x2="1428" y2="1531.5"/>
 <line x1="1237" y1="1568.25" x2="1428" y2="1568.25"/>
 <line x1="1237" y1="1605" x2="1428" y2="1605"/>
 <line x1="1237" y1="1641.75" x2="1428" y2="1641.75"/>
 <line x1="1237" y1="1678.5" x2="1428" y2="1678.5"/>
 <line x1="1237" y1="1715.25" x2="1428" y2="1715.25"/>
 <line x1="1237" y1="1752" x2="1428" y2="1752"/>
 <line x1="1237" y1="1788.75" x2="1428" y2="1788.75"/>
</g>
<rect x="1237" y="978" width="191" height="849" fill="none" stroke="#555" stroke-width="1.6"/>
<g stroke="#555" stroke-width="1.3">
 <line x1="1250" y1="1827" x2="1250" y2="1834"/><line x1="1309" y1="1827" x2="1309" y2="1834"/>
 <line x1="1368" y1="1827" x2="1368" y2="1834"/><line x1="1428" y1="1827" x2="1428" y2="1834"/>
 <line x1="1231" y1="1017" x2="1237" y2="1017"/><line x1="1231" y1="1053.75" x2="1237" y2="1053.75"/>
 <line x1="1231" y1="1090.5" x2="1237" y2="1090.5"/><line x1="1231" y1="1127.25" x2="1237" y2="1127.25"/>
 <line x1="1231" y1="1164" x2="1237" y2="1164"/><line x1="1231" y1="1200.75" x2="1237" y2="1200.75"/>
 <line x1="1231" y1="1237.5" x2="1237" y2="1237.5"/><line x1="1231" y1="1274.25" x2="1237" y2="1274.25"/>
 <line x1="1231" y1="1311" x2="1237" y2="1311"/><line x1="1231" y1="1347.75" x2="1237" y2="1347.75"/>
 <line x1="1231" y1="1384.5" x2="1237" y2="1384.5"/><line x1="1231" y1="1421.25" x2="1237" y2="1421.25"/>
 <line x1="1231" y1="1458" x2="1237" y2="1458"/><line x1="1231" y1="1494.75" x2="1237" y2="1494.75"/>
 <line x1="1231" y1="1531.5" x2="1237" y2="1531.5"/><line x1="1231" y1="1568.25" x2="1237" y2="1568.25"/>
 <line x1="1231" y1="1605" x2="1237" y2="1605"/><line x1="1231" y1="1641.75" x2="1237" y2="1641.75"/>
 <line x1="1231" y1="1678.5" x2="1237" y2="1678.5"/><line x1="1231" y1="1715.25" x2="1237" y2="1715.25"/>
 <line x1="1231" y1="1752" x2="1237" y2="1752"/><line x1="1231" y1="1788.75" x2="1237" y2="1788.75"/>
</g>
<circle cx="1392" cy="1017" r="8" fill="#4a14c4"/>
<circle cx="1351" cy="1053.75" r="6.5" fill="#2a14e8"/>
<circle cx="1336" cy="1090.5" r="6.5" fill="#2a16e4"/>
<circle cx="1333" cy="1127.25" r="3.5" fill="#1a10f4"/>
<circle cx="1327" cy="1164" r="6" fill="#2414ea"/>
<circle cx="1325" cy="1200.75" r="3.5" fill="#1a10f4"/>
<circle cx="1320" cy="1237.5" r="3.5" fill="#1a10f4"/>
<circle cx="1317" cy="1274.25" r="3.5" fill="#1a10f4"/>
<circle cx="1308" cy="1311" r="3.5" fill="#1a10f4"/>
<circle cx="1305" cy="1347.75" r="8.5" fill="#5812b4"/>
<circle cx="1294" cy="1384.5" r="7.5" fill="#3a12d6"/>
<circle cx="1293" cy="1421.25" r="13.5" fill="#f00a14"/>
<circle cx="1291" cy="1458" r="3.5" fill="#1a10f4"/>
<circle cx="1287" cy="1494.75" r="7" fill="#3010dc"/>
<circle cx="1286" cy="1531.5" r="3.5" fill="#1a10f4"/>
<circle cx="1284" cy="1568.25" r="3.5" fill="#1a10f4"/>
<circle cx="1283" cy="1605" r="7" fill="#2a10e2"/>
<circle cx="1281" cy="1641.75" r="8.5" fill="#4614c8"/>
<circle cx="1277" cy="1678.5" r="3.5" fill="#1a10f4"/>
<circle cx="1276" cy="1715.25" r="7" fill="#2a10e2"/>
<circle cx="1274" cy="1752" r="8" fill="#4614c8"/>
<circle cx="1270" cy="1788.75" r="7.5" fill="#3a12d4"/>
<text class="cat" x="1227" y="1023">Muscle tissue development (BP)</text>
<text class="cat" x="1227" y="1059.75">Striated muscle cell differentiation (BP)</text>
<text class="cat" x="1227" y="1096.5">Muscle organ development (BP)</text>
<text class="cat" x="1227" y="1133.25">Regulation of protein modification by small protein conjugation or removal (BP)</text>
<text class="cat" x="1227" y="1170">Cardiac muscle tissue development (BP)</text>
<text class="cat" x="1227" y="1206.75">Receptor-mediated endocytosis (BP)</text>
<text class="cat" x="1227" y="1243.5">Regulation of cell morphogenesis (BP)</text>
<text class="cat" x="1227" y="1280.25">Negative regulation of inflammatory response (BP)</text>
<text class="cat" x="1227" y="1317">Collagen-containing extracellular matrix (CC)</text>
<text class="cat" x="1227" y="1353.75">Circulatory system development (BP)</text>
<text class="cat" x="1227" y="1390.5">Cellular component morphogenesis (BP)</text>
<text class="cat" x="1227" y="1427.25">System development (BP)</text>
<text class="cat" x="1227" y="1464">Lipid transport (BP)</text>
<text class="cat" x="1227" y="1500.75">Vesicle-mediated transport (BP)</text>
<text class="cat" x="1227" y="1537.5">Skeletal muscle tissue development (BP)</text>
<text class="cat" x="1227" y="1574.25">Calcium ion homeostasis (BP)</text>
<text class="cat" x="1227" y="1611">Neuron projection morphogenesis (BP)</text>
<text class="cat" x="1227" y="1647.75">Plasma membrane bounded cell projection organization (BP)</text>
<text class="cat" x="1227" y="1684.5">Amide transport (BP)</text>
<text class="cat" x="1227" y="1721.25">Regulation of anatomical structure morphogenesis (BP)</text>
<text class="cat" x="1227" y="1758">Regulation of protein metabolic process (BP)</text>
<text class="cat" x="1227" y="1794.75">Cell morphogenesis (BP)</text>
<text class="tk" x="1250" y="1857">1</text><text class="tk" x="1309" y="1857">2</text>
<text class="tk" x="1368" y="1857">3</text><text class="tk" x="1428" y="1857">4</text>
<text class="lg" x="1331" y="1887" text-anchor="middle">-log10 (p-value)</text>
<text class="lg" x="1434" y="995">Count</text>
<circle cx="1454" cy="1024" r="3.5" fill="#000"/>
<circle cx="1454" cy="1054" r="9" fill="#000"/>
<circle cx="1454" cy="1086" r="14.5" fill="#000"/>
<text class="lg" x="1490" y="1031">3</text>
<text class="lg" x="1490" y="1061">9</text>
<text class="lg" x="1490" y="1093">27</text>
<text class="lg" x="1434" y="1135">GeneRatio</text>
<rect x="1438" y="1151" width="30" height="236" fill="url(#cb)"/>
<g stroke="#fff" stroke-width="2">
 <line x1="1438" y1="1184" x2="1444" y2="1184"/><line x1="1462" y1="1184" x2="1468" y2="1184"/>
 <line x1="1438" y1="1235" x2="1444" y2="1235"/><line x1="1462" y1="1235" x2="1468" y2="1235"/>
 <line x1="1438" y1="1286" x2="1444" y2="1286"/><line x1="1462" y1="1286" x2="1468" y2="1286"/>
 <line x1="1438" y1="1337" x2="1444" y2="1337"/><line x1="1462" y1="1337" x2="1468" y2="1337"/>
</g>
<text class="lg" x="1476" y="1191">0.28</text>
<text class="lg" x="1476" y="1242">0.22</text>
<text class="lg" x="1476" y="1293">0.16</text>
<text class="lg" x="1476" y="1344">0.10</text>
<text class="lg" x="1476" y="1395">0.04</text>
</svg>
</body></html>
